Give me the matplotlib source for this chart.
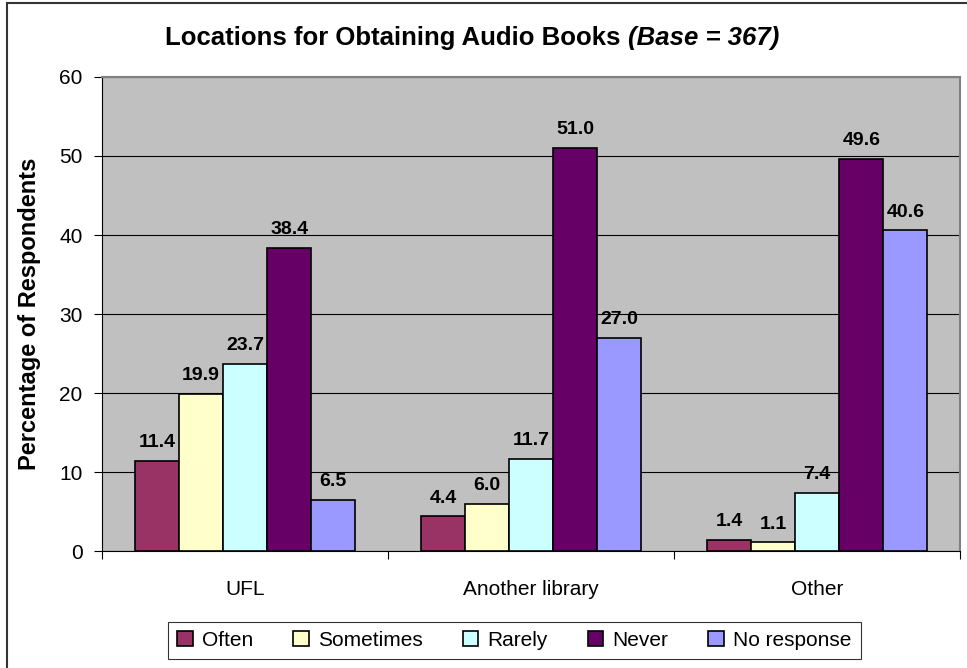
import matplotlib
matplotlib.use("Agg")
import matplotlib.pyplot as plt
import numpy as np
from matplotlib.patches import Rectangle

plt.rcParams["font.family"] = ["Liberation Sans", "DejaVu Sans"]

# ── data ─────────────────────────────────────────────────────────────────────
categories = ["UFL", "Another library", "Other"]
series     = ["Often", "Sometimes", "Rarely", "Never", "No response"]
often      = [11.4, 4.4, 1.4]
sometimes  = [19.9, 6.0, 1.1]
rarely     = [23.7, 11.7, 7.4]
never      = [38.4, 51.0, 49.6]
no_resp    = [6.5, 27.0, 40.6]
colors     = ["#993366", "#FFFFCC", "#CCFFFF", "#660066", "#9999FF"]

values = [often, sometimes, rarely, never, no_resp]

# ── figure ───────────────────────────────────────────────────────────────────
fig = plt.figure(figsize=(9.67, 6.68), dpi=100, facecolor="white")
ax = fig.add_axes([0.1055, 0.175, 0.8875, 0.7098])
ax.set_facecolor("#C0C0C0")

x = np.arange(len(categories))
bw = 0.77 / len(series)
for i, (name, vals) in enumerate(zip(series, values)):
    pos = x - 0.385 + bw * (i + 0.5)
    bars = ax.bar(pos, vals, width=bw, color=colors[i], edgecolor="black",
                  linewidth=1.2, label=name, zorder=3)
    for b, v in zip(bars, vals):
        ax.annotate(f"{v:.1f}", (b.get_x() + b.get_width() / 2, v),
                    xytext=(0, 7), textcoords="offset points",
                    ha="center", va="bottom", fontsize=14, fontweight="bold")

ax.set_xlim(-0.5, 2.5)
ax.set_ylim(0, 60)
ax.set_yticks(range(0, 61, 10))
ax.set_xticks([-0.5, 0.5, 1.5, 2.5], minor=False)
ax.set_xticklabels([])
ax.set_xticks(x, minor=True)
ax.set_xticklabels(categories, minor=True, fontsize=15)
ax.tick_params(axis="x", which="minor", length=0, pad=21)
ax.tick_params(axis="x", which="major", length=6, direction="out", color="black")
ax.tick_params(axis="y", labelsize=15, length=6, pad=8, color="black")
ax.grid(axis="y", color="black", linewidth=0.8, zorder=1)
for side in ["top", "right"]:
    ax.spines[side].set_color("#808080")
    ax.spines[side].set_linewidth(1.5)
ax.spines["left"].set_color("black")
ax.spines["bottom"].set_color("black")

ax.set_ylabel("Percentage of Respondents", fontsize=17, fontweight="bold")
ax.yaxis.set_label_coords(-0.071, 0.5)

# title: bold part + bold italic part, centred as a pair
t1 = fig.text(0.0, 0.943, "Locations for Obtaining Audio Books ", fontsize=18.5,
              fontweight="bold", ha="left", va="center")
t2 = fig.text(0.0, 0.943, "(Base = 367)", fontsize=18.5,
              fontweight="bold", fontstyle="italic", ha="left", va="center")
fig.canvas.draw()
w1 = t1.get_window_extent().width
w2 = t2.get_window_extent().width
x0 = 472 - (w1 + w2) / 2
t1.set_x(x0 / fig.bbox.width)
t2.set_x((x0 + w1) / fig.bbox.width)

leg = fig.legend(loc="center", bbox_to_anchor=(0.532, 0.041), ncol=5, fontsize=15,
                 frameon=True, fancybox=False, edgecolor="black", handlelength=0.75,
                 handleheight=0.75, handletextpad=0.45, columnspacing=1.9,
                 borderpad=0.45)
leg.get_frame().set_linewidth(0.8)

# outer border
fig.patches.append(Rectangle((0.007, -0.01), 1.1, 1.0055, transform=fig.transFigure,
                             fill=False, edgecolor="#333333", linewidth=1.5))

fig.savefig("out.png", dpi=100, facecolor="white")
